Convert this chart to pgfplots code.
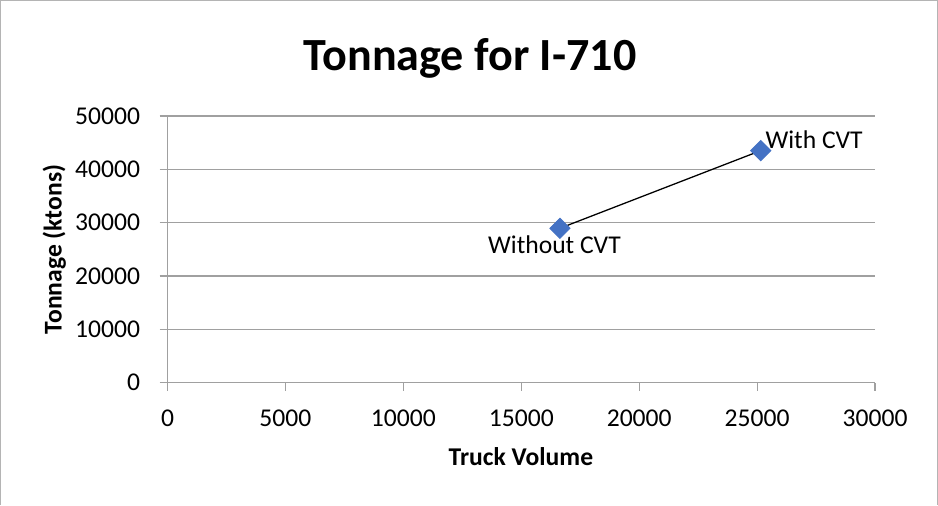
\documentclass[border=0pt]{standalone}
\usepackage{fontspec}
\setmainfont{Carlito}
\usepackage{pgfplots}
\pgfplotsset{compat=1.18}
\definecolor{gridgray}{HTML}{A0A0A0}
\definecolor{framegray}{HTML}{B4B4B4}
\definecolor{xlblue}{HTML}{4472C4}

\begin{document}
\begin{tikzpicture}
% chart frame (open at the bottom, as in the reference)
\draw[framegray, line width=0.5pt] (0.25pt,0) -- (0.25pt,197.0pt) -- (366.15pt,197.0pt) -- (366.15pt,0);
\path (0,0) rectangle (366.41pt,197.27pt);

\begin{axis}[
  at={(65.43pt,47.77pt)}, anchor=south west,
  scale only axis, width=276.4pt, height=104.2pt,
  xmin=0, xmax=30000, ymin=0, ymax=50000,
  xtick={0,5000,...,30000}, ytick={0,10000,...,50000},
  axis x line*=bottom, axis y line*=left,
  axis line style={gridgray, line width=0.5pt},
  ymajorgrids, grid style={gridgray, line width=0.5pt},
  tick align=outside, major tick length=3.1pt,
  tick style={gridgray, line width=0.5pt},
  scaled ticks=false,
  /pgf/number format/1000 sep={},
  /pgf/number format/assume math mode=true,
  ticklabel style={font=\fontsize{10}{12}\selectfont, inner sep=0pt},
  xticklabel shift=7.2pt, yticklabel shift=7.4pt,
  clip=false
]
\addplot[only marks, mark=square*, mark size=2.76pt,
  mark options={rotate=45, fill=xlblue, draw=xlblue}]
  coordinates {(16640,28950) (25150,43500)};
\addplot[black, line width=0.5pt, no marks]
  coordinates {(16640,28950) (25150,43500)};

\node[anchor=base west, inner sep=0pt, font=\fontsize{10}{12}\selectfont,
  xshift=1.7pt, yshift=0.9pt] at (axis cs:25150,43500) {With CVT};
\node[anchor=base, inner sep=0pt, font=\fontsize{10}{12}\selectfont,
  xshift=-2.15pt, yshift=-10pt] at (axis cs:16640,28950) {Without CVT};
\end{axis}

\node[anchor=base, inner sep=0pt, font=\bfseries\fontsize{18}{22}\selectfont]
  at (183.6pt,169.9pt) {Tonnage for I-710};
\node[rotate=90, anchor=base, inner sep=0pt, font=\bfseries\fontsize{10}{12}\selectfont]
  at (24.1pt,99.8pt) {Tonnage (ktons)};
\node[anchor=base, inner sep=0pt, font=\bfseries\fontsize{10}{12}\selectfont]
  at (203.5pt,15.6pt) {Truck Volume};
\end{tikzpicture}
\end{document}
